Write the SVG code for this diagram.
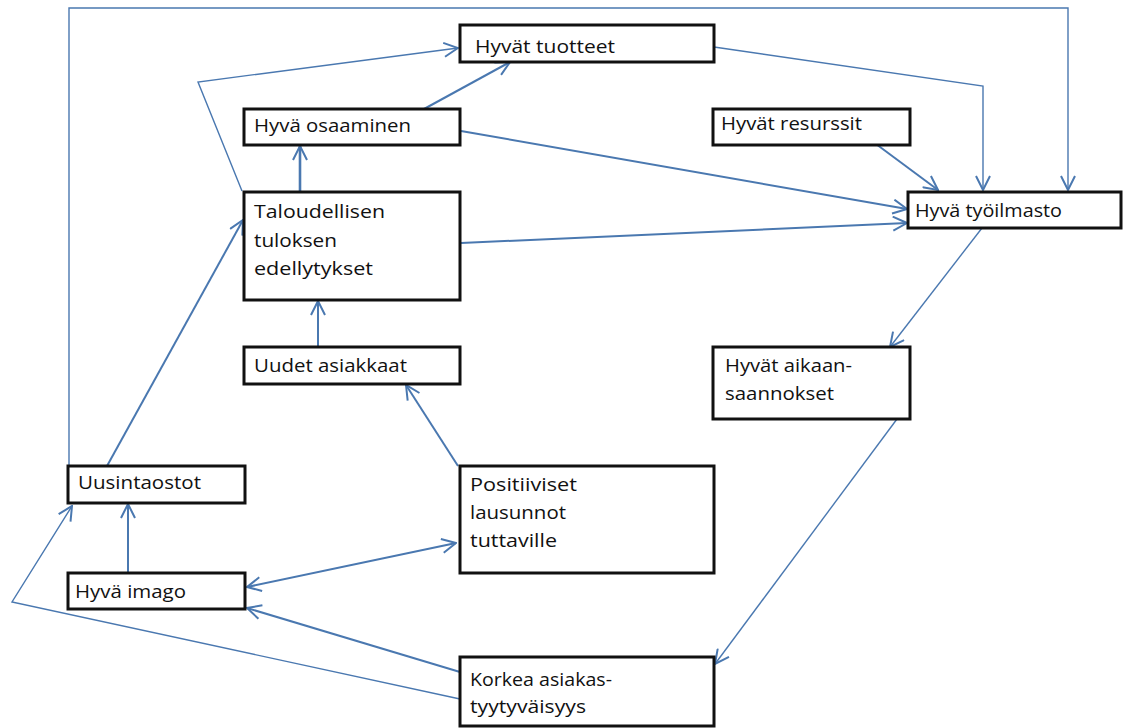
<svg xmlns="http://www.w3.org/2000/svg" width="1123" height="728" viewBox="0 0 1123 728">
<style>
.box{fill:#fff;stroke:#111;stroke-width:3}
.t{font-family:"Open Sans","Liberation Sans",sans-serif;font-size:18px;fill:#111}
.c{fill:none;stroke:#4A78B0;stroke-width:2;stroke-linejoin:miter}
.thin{stroke-width:1.4}
.thick{stroke-width:2.6}
</style>
<defs>
<marker id="a" viewBox="0 0 16 16" refX="15" refY="8" markerWidth="16" markerHeight="16" markerUnits="userSpaceOnUse" orient="auto-start-reverse">
<path d="M1,1 L15,8 L1,15" fill="none" stroke="#4A78B0" stroke-width="2"/>
</marker>
</defs>
<rect width="1123" height="728" fill="#fff"/>
<g id="connectors">
<polyline class="c thin" points="69,466 69,8 1068,8 1068,190" marker-end="url(#a)"/>
<polyline class="c thin" points="242,191 198,82 458,48" marker-end="url(#a)"/>
<line class="c" x1="424" y1="109" x2="510" y2="62" marker-end="url(#a)"/>
<line class="c thick" x1="300" y1="191" x2="300" y2="146" marker-end="url(#a)"/>
<line class="c" x1="461" y1="131" x2="907" y2="209" marker-end="url(#a)"/>
<line class="c" x1="461" y1="243" x2="907" y2="223" marker-end="url(#a)"/>
<polyline class="c thin" points="714,47 983,86 983,190" marker-end="url(#a)"/>
<line class="c" x1="876" y1="144" x2="938" y2="190" marker-end="url(#a)"/>
<line class="c thin" x1="982" y1="228" x2="890" y2="347" marker-end="url(#a)"/>
<line class="c thin" x1="897" y1="419" x2="715" y2="664" marker-end="url(#a)"/>
<line class="c" x1="458" y1="466" x2="406" y2="385" marker-end="url(#a)"/>
<line class="c" x1="318" y1="347" x2="318" y2="301" marker-end="url(#a)"/>
<line class="c" x1="107" y1="466" x2="243" y2="220" marker-end="url(#a)"/>
<line class="c" x1="128" y1="573" x2="128" y2="504" marker-end="url(#a)"/>
<line class="c" x1="460" y1="672" x2="247" y2="608" marker-end="url(#a)"/>
<line class="c" x1="247" y1="587" x2="456" y2="543" marker-start="url(#a)" marker-end="url(#a)"/>
<polyline class="c thin" points="460,699 12,602 72,506" marker-end="url(#a)"/>
</g>
<g id="hyvat-tuotteet">
<rect class="box" x="460" y="25" width="254" height="37"/>
<text class="t" x="475" y="53" textLength="140" lengthAdjust="spacingAndGlyphs">Hyvät tuotteet</text>
</g>
<g id="hyva-osaaminen">
<rect class="box" x="244" y="109" width="216" height="36"/>
<text class="t" x="254" y="132" textLength="157" lengthAdjust="spacingAndGlyphs">Hyvä osaaminen</text>
</g>
<g id="taloudellisen">
<rect class="box" x="244" y="192" width="216" height="108"/>
<text class="t" x="254" y="218" textLength="131" lengthAdjust="spacingAndGlyphs">Taloudellisen</text>
<text class="t" x="254" y="247" textLength="83" lengthAdjust="spacingAndGlyphs">tuloksen</text>
<text class="t" x="254" y="275" textLength="119" lengthAdjust="spacingAndGlyphs">edellytykset</text>
</g>
<g id="uudet-asiakkaat">
<rect class="box" x="244" y="347" width="216" height="37"/>
<text class="t" x="254" y="372" textLength="153" lengthAdjust="spacingAndGlyphs">Uudet asiakkaat</text>
</g>
<g id="uusintaostot">
<rect class="box" x="68" y="466" width="177" height="37"/>
<text class="t" x="78" y="489" textLength="123" lengthAdjust="spacingAndGlyphs">Uusintaostot</text>
</g>
<g id="hyva-imago">
<rect class="box" x="68" y="573" width="177" height="36"/>
<text class="t" x="75" y="598" textLength="111" lengthAdjust="spacingAndGlyphs">Hyvä imago</text>
</g>
<g id="positiiviset">
<rect class="box" x="460" y="466" width="254" height="107"/>
<text class="t" x="470" y="491" textLength="107" lengthAdjust="spacingAndGlyphs">Positiiviset</text>
<text class="t" x="470" y="519" textLength="96" lengthAdjust="spacingAndGlyphs">lausunnot</text>
<text class="t" x="470" y="547" textLength="87" lengthAdjust="spacingAndGlyphs">tuttaville</text>
</g>
<g id="korkea">
<rect class="box" x="460" y="657" width="254" height="69"/>
<text class="t" x="470" y="686" textLength="142" lengthAdjust="spacingAndGlyphs">Korkea asiakas-</text>
<text class="t" x="470" y="713" textLength="116" lengthAdjust="spacingAndGlyphs">tyytyväisyys</text>
</g>
<g id="hyvat-resurssit">
<rect class="box" x="713" y="109" width="197" height="36"/>
<text class="t" x="721" y="130" textLength="141" lengthAdjust="spacingAndGlyphs">Hyvät resurssit</text>
</g>
<g id="hyva-tyoilmasto">
<rect class="box" x="908" y="192" width="213" height="36"/>
<text class="t" x="915" y="217" textLength="147" lengthAdjust="spacingAndGlyphs">Hyvä työilmasto</text>
</g>
<g id="hyvat-aikaansaannokset">
<rect class="box" x="713" y="347" width="197" height="72"/>
<text class="t" x="725" y="372" textLength="127" lengthAdjust="spacingAndGlyphs">Hyvät aikaan-</text>
<text class="t" x="725" y="400" textLength="109" lengthAdjust="spacingAndGlyphs">saannokset</text>
</g>
</svg>
